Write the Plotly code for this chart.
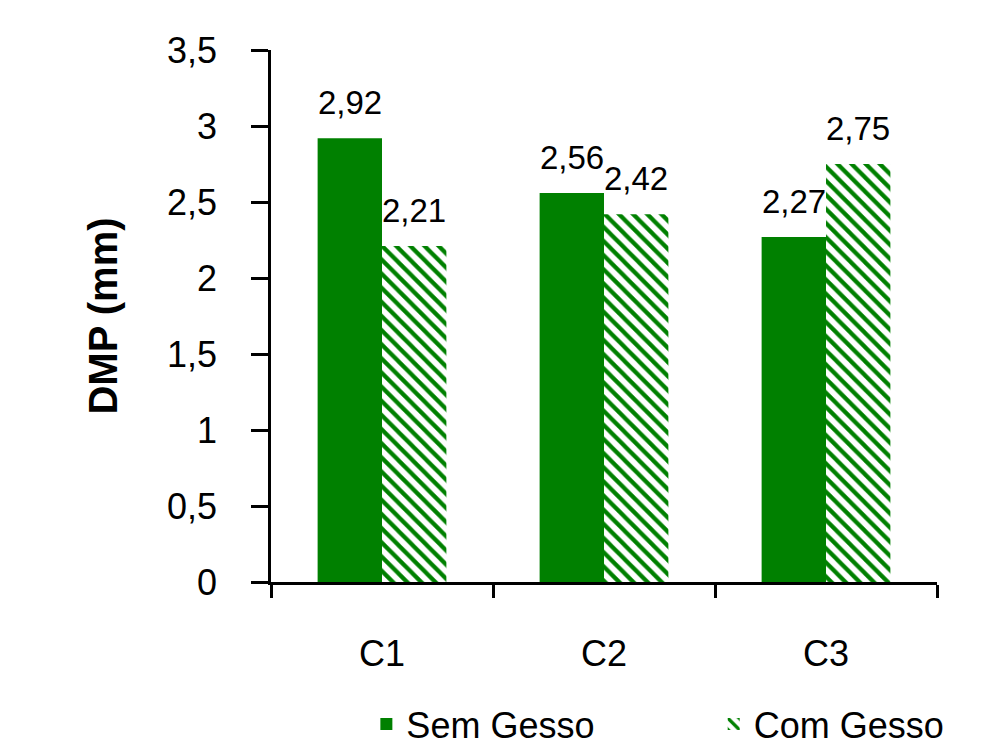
import plotly.graph_objects as go

# Mean weighted diameter (DMP) per treatment, without and with gypsum
categories = ["C1", "C2", "C3"]
sem_gesso = [2.92, 2.56, 2.27]
com_gesso = [2.21, 2.42, 2.75]
y_ticks = [0, 0.5, 1, 1.5, 2, 2.5, 3, 3.5]

GREEN = "#008000"
FONT = "Liberation Sans, Arial, sans-serif"

fig = go.Figure()
fig.add_trace(go.Bar(
    name="Sem Gesso", x=categories, y=sem_gesso,
    marker=dict(color=GREEN, line=dict(width=0)),
    legend="legend",
))
fig.add_trace(go.Bar(
    name="Com Gesso", x=categories, y=com_gesso,
    marker=dict(color=GREEN, line=dict(width=0),
                pattern=dict(shape="\\", fgcolor=GREEN, bgcolor="white",
                             fgopacity=1, size=10, solidity=0.42,
                             fillmode="replace")),
    legend="legend2",
))

# value labels above each bar (decimal comma)
half = (1 - 0.42) / 4  # centre offset of each bar inside its group
for i, (a, b) in enumerate(zip(sem_gesso, com_gesso)):
    for off, v in ((-half, a), (half, b)):
        fig.add_annotation(
            x=i + off, y=v, xref="x", yref="y",
            text=f"{v:.2f}".replace(".", ","),
            showarrow=False, yanchor="bottom", yshift=15,
            font=dict(family=FONT, size=33, color="black"),
        )

legend_style = dict(
    orientation="h", xref="container", yref="container",
    xanchor="left", yanchor="top", y=0.072,
    font=dict(family=FONT, size=36, color="black"),
    bgcolor="rgba(0,0,0,0)", itemclick=False, itemdoubleclick=False,
)

fig.update_layout(
    width=1001, height=748,
    paper_bgcolor="white", plot_bgcolor="white",
    margin=dict(l=271, r=64, t=50, b=166, autoexpand=False),
    barmode="group", bargap=0.42, bargroupgap=0,
    separators=",.",
    font=dict(family=FONT, color="black"),
    showlegend=True,
    legend=dict(legend_style, x=0.366),
    legend2=dict(legend_style, x=0.713),
)

fig.update_xaxes(
    type="category", range=[-0.5, 2.5],
    showline=True, linecolor="black", linewidth=2.5,
    ticks="outside", tickson="boundaries", ticklen=13, tickwidth=2.5, tickcolor="black",
    tickfont=dict(family=FONT, size=36, color="black"),
    ticklabelstandoff=38,
    showgrid=False, zeroline=False,
)
fig.update_yaxes(
    range=[0, 3.5], tickvals=y_ticks,
    showline=True, linecolor="black", linewidth=2.5,
    ticks="outside", ticklen=17, tickwidth=2.5, tickcolor="black",
    tickfont=dict(family=FONT, size=36, color="black"),
    ticklabelstandoff=27,
    showgrid=False, zeroline=False,
    title=dict(text="<b>DMP (mm)</b>", standoff=38,
               font=dict(family=FONT, size=40, color="black")),
)

fig.write_html("out.html")
